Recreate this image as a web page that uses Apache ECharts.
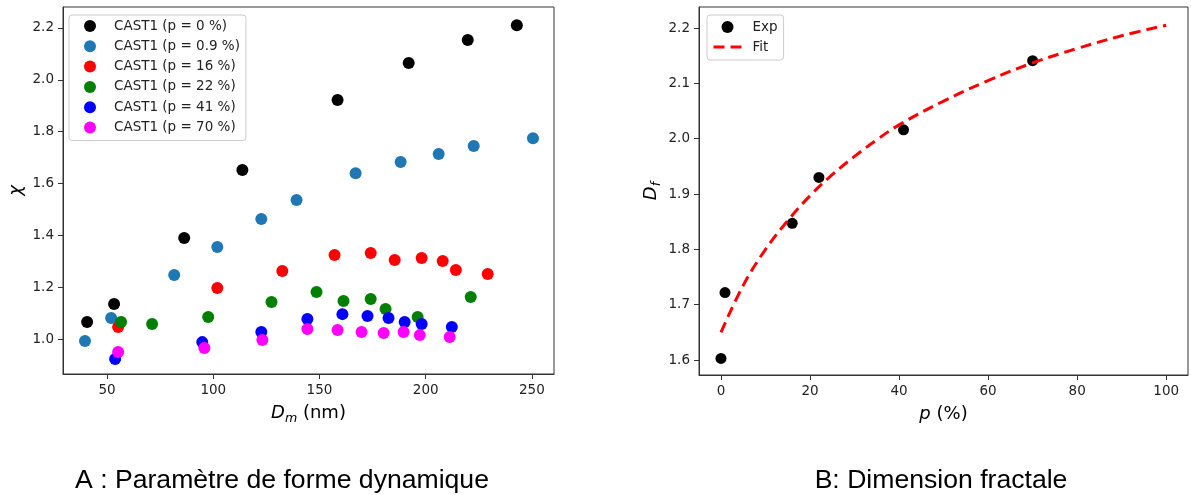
<!DOCTYPE html>
<html>
<head>
<meta charset="utf-8">
<script src="https://cdn.jsdelivr.net/npm/echarts@6/dist/echarts.min.js"></script>
<style>
html,body{margin:0;padding:0;background:#fff;}
#c{width:1191px;height:495px;}
</style>
</head>
<body>
<div id="c"></div>
<script>
// ---- Panel A data ----
const seriesNames = ['CAST1 (p = 0 %)','CAST1 (p = 0.9 %)','CAST1 (p = 16 %)','CAST1 (p = 22 %)','CAST1 (p = 41 %)','CAST1 (p = 70 %)'];
const dm_p0   = [40.6,53.3,86.3,113.7,158.5,192.0,219.8,242.9];
const chi_p0  = [1.066,1.135,1.390,1.652,1.922,2.065,2.154,2.211];
const dm_p09  = [39.6,51.9,81.6,101.9,122.6,139.2,167.0,188.2,206.1,222.6,250.5];
const chi_p09 = [0.992,1.081,1.247,1.355,1.463,1.536,1.640,1.683,1.714,1.745,1.775];
const dm_p16  = [55.2,101.9,132.5,157.1,174.1,185.4,198.1,208.0,214.2,229.2];
const chi_p16 = [1.046,1.197,1.262,1.324,1.332,1.305,1.313,1.301,1.266,1.251];
const dm_p22  = [56.6,71.2,97.6,127.4,148.6,161.3,174.1,181.1,196.2,221.2];
const chi_p22 = [1.066,1.058,1.085,1.143,1.181,1.147,1.154,1.116,1.085,1.162];
const dm_p41  = [53.8,94.8,122.6,144.3,160.8,172.6,182.5,190.1,198.1,212.3];
const chi_p41 = [0.923,0.988,1.027,1.077,1.096,1.089,1.081,1.066,1.058,1.046];
const dm_p70  = [55.2,95.8,123.1,144.3,158.5,169.8,180.2,189.6,197.2,211.3];
const chi_p70 = [0.950,0.965,0.996,1.039,1.035,1.027,1.023,1.027,1.015,1.008];
const xTicksA = [50,100,150,200,250];
const yTicksA = [1.0,1.2,1.4,1.6,1.8,2.0,2.2];

// ---- Panel B data ----
const p_exp  = [0,0.9,16,22,41,70];
const df_exp = [1.603,1.722,1.847,1.930,2.016,2.141];
const p_fit  = [0,5,10,15,20,25,30,35,40,50,60,70,80,90,100];
const df_fit = [1.650,1.735,1.800,1.852,1.897,1.935,1.968,1.998,2.025,2.068,2.105,2.137,2.163,2.186,2.205];
const xTicksB = [0,20,40,60,80,100];
const yTicksB = [1.6,1.7,1.8,1.9,2.0,2.1,2.2];

const colorsA = ['#000000','#1f77b4','#ff0000','#008000','#0000ff','#ff00ff'];
const xsA = [dm_p0,dm_p09,dm_p16,dm_p22,dm_p41,dm_p70];
const ysA = [chi_p0,chi_p09,chi_p16,chi_p22,chi_p41,chi_p70];

const FONT = 'DejaVu Sans';
const zip = (a,b) => a.map((v,i)=>[v,b[i]]);

const axisCommon = {
  axisLine:{show:true, onZero:false, lineStyle:{color:'#333', width:1}},
  axisTick:{show:true, inside:false, length:5, lineStyle:{color:'#333', width:1}},
  splitLine:{show:false},
  axisLabel:{color:'#222', fontFamily:FONT, fontSize:13.5, margin:9},
  nameLocation:'middle',
  nameTextStyle:{color:'#000', fontFamily:FONT, fontSize:18,
    rich:{
      i:{fontFamily:FONT, fontStyle:'italic', fontSize:18, lineHeight:24, verticalAlign:'middle'},
      s:{fontFamily:FONT, fontStyle:'italic', fontSize:12.6, lineHeight:12, verticalAlign:'bottom'},
      n:{fontFamily:FONT, fontSize:18, lineHeight:24, verticalAlign:'middle'}
    }}
};
function mkAxis(extra){
  const o = JSON.parse(JSON.stringify(axisCommon));
  return Object.assign(o, extra, {
    axisLabel:Object.assign(o.axisLabel, extra.axisLabel||{}),
    axisTick:Object.assign(o.axisTick, extra.axisTick||{})
  });
}

const seriesA = seriesNames.map((n,k)=>({
  name:n, type:'scatter', xAxisIndex:0, yAxisIndex:0,
  symbol:'circle', symbolSize:12,
  itemStyle:{color:colorsA[k], opacity:1},
  data:zip(xsA[k], ysA[k]), z:2+k
}));

const option = {
  animation:false,
  backgroundColor:'#fff',
  grid:[
    {left:63, top:7, width:491, height:367, show:true, borderColor:'#333', borderWidth:1, containLabel:false},
    {left:699, top:7, width:489, height:368, show:true, borderColor:'#333', borderWidth:1, containLabel:false}
  ],
  xAxis:[
    mkAxis({type:'value', gridIndex:0, min:29.25, max:260.4,
      name:'{i|D}{s|m}{n| (nm)}', nameGap:27,
      axisTick:{customValues:xTicksA},
      axisLabel:{customValues:xTicksA, formatter:v=>String(v)}}),
    mkAxis({type:'value', gridIndex:1, min:-4.94, max:104.9,
      name:'{i|p}{n| (%)}', nameGap:27,
      axisTick:{customValues:xTicksB},
      axisLabel:{customValues:xTicksB, formatter:v=>String(v)}})
  ],
  yAxis:[
    mkAxis({type:'value', gridIndex:0, min:0.865, max:2.281,
      name:'{i|χ}', nameGap:35,
      axisTick:{customValues:yTicksA},
      axisLabel:{customValues:yTicksA, formatter:v=>v.toFixed(1)}}),
    mkAxis({type:'value', gridIndex:1, min:1.573, max:2.238,
      name:'{i|D}{s|f}', nameGap:36,
      axisTick:{customValues:yTicksB},
      axisLabel:{customValues:yTicksB, formatter:v=>v.toFixed(1)}})
  ],
  legend:[
    {data:seriesNames.map(n=>({name:n, icon:'circle'})), orient:'vertical', left:69, top:15,
      itemWidth:28, itemHeight:12, itemGap:6.3,
      padding:[4,6,6,15],
      backgroundColor:'rgba(255,255,255,0.8)', borderColor:'#cccccc', borderWidth:1, borderRadius:3,
      textStyle:{fontFamily:FONT, fontSize:13.5, color:'#222', lineHeight:14, padding:[0,0,0,5]}},
    {data:[{name:'Exp', icon:'circle'},
           {name:'Fit', itemStyle:{opacity:0}, lineStyle:{color:'#ff0000', width:3, type:[11,6]}}],
      orient:'vertical', left:707, top:15,
      itemWidth:28, itemHeight:12, itemGap:6,
      padding:[5,6,6,5],
      backgroundColor:'rgba(255,255,255,0.8)', borderColor:'#cccccc', borderWidth:1, borderRadius:3,
      textStyle:{fontFamily:FONT, fontSize:13.5, color:'#222', lineHeight:14, padding:[0,0,0,6]}}
  ],
  series: seriesA.concat([
    {name:'Exp', type:'scatter', xAxisIndex:1, yAxisIndex:1, symbol:'circle', symbolSize:11,
      itemStyle:{color:'#000', opacity:1}, data:zip(p_exp, df_exp), z:3},
    {name:'Fit', type:'line', xAxisIndex:1, yAxisIndex:1, symbol:'none', smooth:0.4,
      lineStyle:{color:'#ff0000', width:3, type:[11,6]}, itemStyle:{color:'#ff0000'},
      data:zip(p_fit, df_fit), z:4}
  ]),
  graphic:[
    {type:'text', x:282, y:481, style:{text:'A : Paramètre de forme dynamique', fontFamily:'Liberation Sans', fontSize:26.6, fill:'#000', align:'center', verticalAlign:'middle'}},
    {type:'text', x:941, y:481, style:{text:'B: Dimension fractale', fontFamily:'Liberation Sans', fontSize:26.6, fill:'#000', align:'center', verticalAlign:'middle'}}
  ]
};

const chart = echarts.init(document.getElementById('c'), null, {renderer:'canvas'});
chart.setOption(option);
</script>
</body>
</html>
